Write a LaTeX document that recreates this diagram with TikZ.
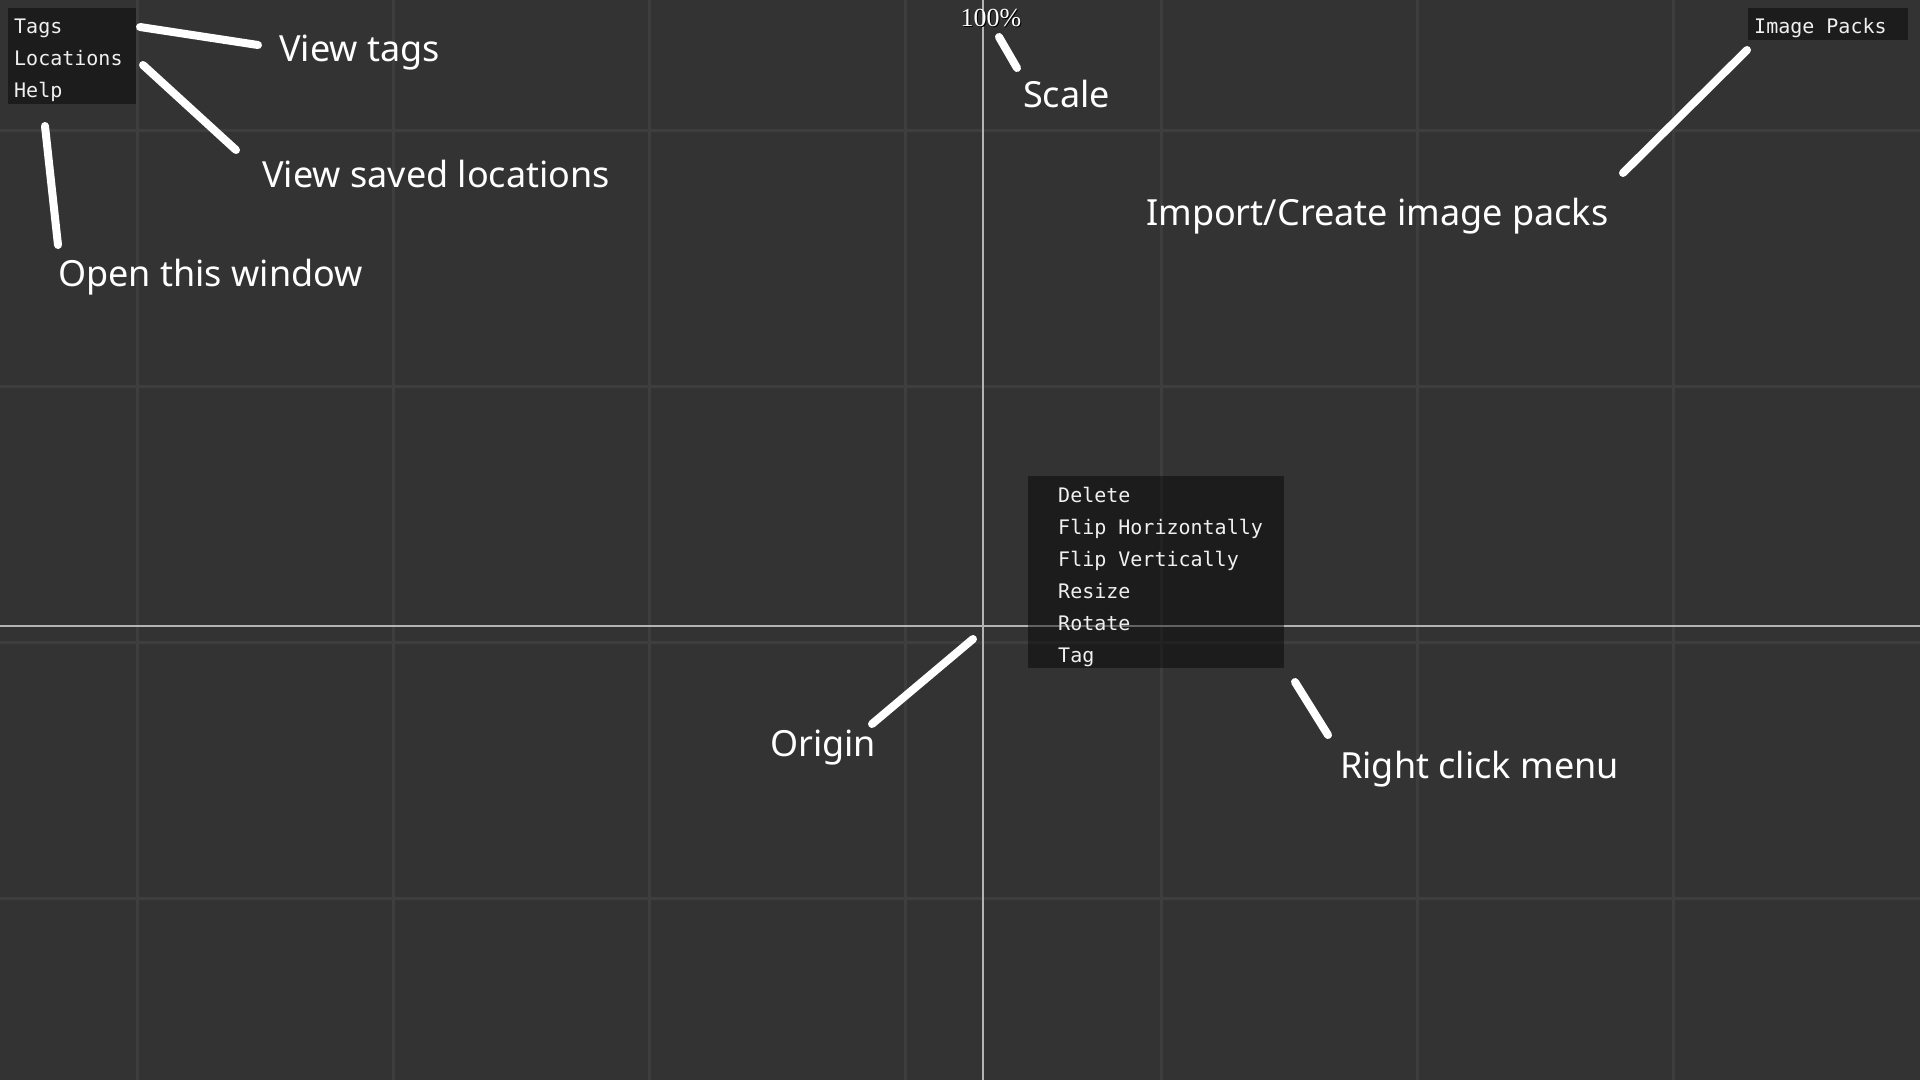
\documentclass[tikz,border=0pt]{standalone}
\usepackage{fontspec}
\newfontfamily\lblfont{Noto Sans}
\newfontfamily\menufont{DejaVu Sans Mono}
\newfontfamily\scalefont{Liberation Serif}
\definecolor{bg}{HTML}{333333}
\definecolor{gridc}{HTML}{3E3E3E}
\definecolor{axisc}{HTML}{B4B4B4}
\definecolor{menutext}{HTML}{F0F0F0}
\begin{document}
\begin{tikzpicture}[x=1pt,y=-1pt,
  lbl/.style={font=\lblfont\fontsize{36}{42}\selectfont, text=white, anchor=base west, inner sep=0pt},
  menuitem/.style={font=\menufont\fontsize{20}{24}\selectfont, text=menutext, anchor=base west, inner sep=0pt},
  menubox/.style={fill=black, fill opacity=0.45, draw=none, anchor=north west, inner sep=0pt},
  pointer/.style={white, line width=8pt, line cap=round},
  gridline/.style={gridc, line width=3pt},
  axisline/.style={axisc, line width=1.5pt}]
% background
\fill[bg] (0,0) rectangle (1920,1080);
\useasboundingbox (0,0) rectangle (1920,1080);
% grid
\foreach \gx in {137,393,649,905,1161,1417,1673}
  \draw[gridline] (\gx,0) -- (\gx,1080);
\foreach \gy in {130,386,642,898}
  \draw[gridline] (0,\gy) -- (1920,\gy);
% axes
\draw[axisline] (983,0) -- (983,1080);
\draw[axisline] (0,626) -- (1920,626);
% top-left menu
\node[menubox, minimum width=128pt, minimum height=96pt] (mainmenu) at (8,8) {};
\node[menuitem] (tags) at (14,33) {Tags};
\node[menuitem] (locs) at (14,65) {Locations};
\node[menuitem] (help) at (14,97) {Help};
% image packs menu
\node[menubox, minimum width=160pt, minimum height=32pt] (packbox) at (1748,8) {};
\node[menuitem] (packs) at (1754,33) {Image Packs};
% right click menu
\node[menubox, minimum width=256pt, minimum height=192pt] (rcmenu) at (1028,476) {};
\node[menuitem] (rdel) at (1058,502) {Delete};
\node[menuitem] (rfh) at (1058,534) {Flip Horizontally};
\node[menuitem] (rfv) at (1058,566) {Flip Vertically};
\node[menuitem] (rres) at (1058,598) {Resize};
\node[menuitem] (rrot) at (1058,630) {Rotate};
\node[menuitem] (rtag) at (1058,662) {Tag};
% scale readout
\node[font=\scalefont\fontsize{26}{28}\selectfont, text=black, inner sep=0pt] at (992,19) {100\%};
\node[font=\scalefont\fontsize{26}{28}\selectfont, text=white, inner sep=0pt] (scaleval) at (991,18) {100\%};
% labels
\node[lbl] (ltags) at (279,61) {View tags};
\node[lbl] (llocs) at (262,187) {View saved locations};
\node[lbl] (lhelp) at (58,286) {Open this window};
\node[lbl] (lscale) at (1023,107) {Scale};
\node[lbl] (lpacks) at (1146,225) {Import/Create image packs};
\node[lbl] (lorigin) at (770,756) {Origin};
\node[lbl] (lrc) at (1340,778) {Right click menu};
% pointer end points
\coordinate (p1a) at (140,27);  \coordinate (p1b) at (258,45);
\coordinate (p2a) at (143,65);  \coordinate (p2b) at (236,150);
\coordinate (p3a) at (45,126);  \coordinate (p3b) at (58,245);
\coordinate (p4a) at (999,37);  \coordinate (p4b) at (1017,68);
\coordinate (p5a) at (1747,50); \coordinate (p5b) at (1623,173);
\coordinate (p6a) at (973,639); \coordinate (p6b) at (872,724);
\coordinate (p7a) at (1295,682);\coordinate (p7b) at (1328,735);
\draw[pointer] (p1a) -- (p1b);
\draw[pointer] (p2a) -- (p2b);
\draw[pointer] (p3a) -- (p3b);
\draw[pointer] (p4a) -- (p4b);
\draw[pointer] (p5a) -- (p5b);
\draw[pointer] (p6a) -- (p6b);
\draw[pointer] (p7a) -- (p7b);
\end{tikzpicture}
\end{document}
